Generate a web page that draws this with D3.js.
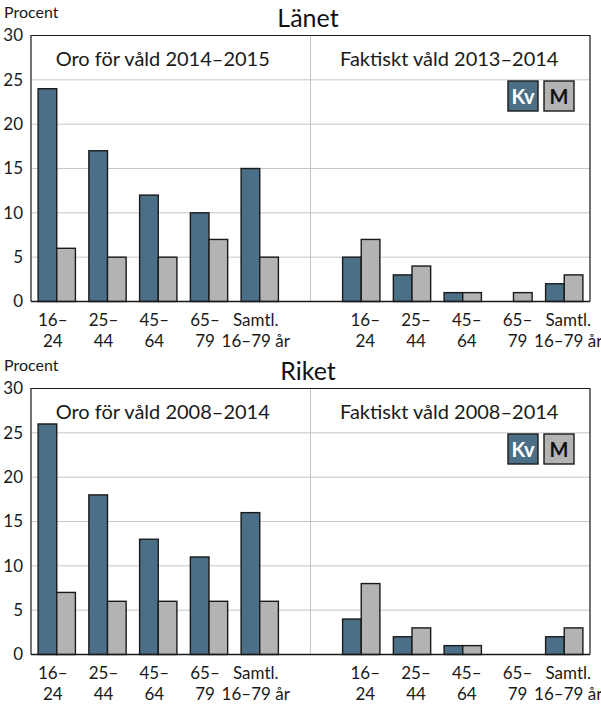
<!DOCTYPE html>
<html>
<head>
<meta charset="utf-8">
<script src="https://cdn.jsdelivr.net/npm/d3@7"></script>
<style>
    body { margin: 0; background: #fff; }
    svg { font-family: Lato, "Noto Sans", sans-serif; }
</style>
</head>
<body>
<div class="content"></div>
<script>
// kategorier och värden
const ageLabels = [['16–', '24'], ['25–', '44'], ['45–', '64'], ['65–', '79'], ['Samtl.', '16–79 år']];
const yTicks = [0, 5, 10, 15, 20, 25, 30];
const seriesNames = ['Kv', 'M'];

const lanTitles = ['Länet', 'Oro för våld 2014–2015', 'Faktiskt våld 2013–2014'];
const lanOroKv = [24, 17, 12, 10, 15];
const lanOroM = [6, 5, 5, 7, 5];
const lanFaktKv = [5, 3, 1, 0, 2];
const lanFaktM = [7, 4, 1, 1, 3];

const rikTitles = ['Riket', 'Oro för våld 2008–2014', 'Faktiskt våld 2008–2014'];
const rikOroKv = [26, 18, 13, 11, 16];
const rikOroM = [7, 6, 6, 6, 6];
const rikFaktKv = [4, 2, 1, 0, 2];
const rikFaktM = [8, 3, 1, 0, 3];

(function () {
    let colors = {Kv: '#4a6f87', M: '#b3b3b3'};
    let left = 31, right = 590, top = 35.5, bottom = 301.5;

    let svg = d3.select('.content').append('svg')
        .attr('width', 601)
        .attr('height', 706);

    let keys = ageLabels.map((d, i) => 'L' + i).concat(['gap'], ageLabels.map((d, i) => 'R' + i));

    let x = d3.scaleBand()
        .domain(keys)
        .range([left, right])
        .paddingInner(0.265)
        .paddingOuter(0.14);

    let xs = d3.scaleBand()
        .domain(seriesNames)
        .range([0, x.bandwidth()]);

    let y = d3.scaleLinear()
        .domain([0, 30])
        .range([bottom, top]);

    function drawPanel(offsetY, titles, oroKv, oroM, faktKv, faktM) {
        let g = svg.append('g').attr('transform', 'translate(0,' + offsetY + ')');

        let rows = [];
        ageLabels.forEach((d, i) => {
            rows.push({key: 'L' + i, s: 'Kv', v: oroKv[i]});
            rows.push({key: 'L' + i, s: 'M', v: oroM[i]});
            rows.push({key: 'R' + i, s: 'Kv', v: faktKv[i]});
            rows.push({key: 'R' + i, s: 'M', v: faktM[i]});
        });

        // rutnät
        g.append('g')
            .selectAll('line')
            .data(yTicks.filter(t => t > 0 && t < 30))
            .join('line')
            .attr('x1', left).attr('x2', right)
            .attr('y1', d => y(d)).attr('y2', d => y(d))
            .attr('stroke', '#c6c6c6')
            .attr('stroke-width', 1);

        // delningslinje
        let mid = x('gap') + x.bandwidth() / 2;
        g.append('line')
            .attr('x1', mid).attr('x2', mid)
            .attr('y1', top).attr('y2', bottom)
            .attr('stroke', '#c6c6c6');

        // ram
        g.append('path')
            .attr('d', 'M' + left + ',' + bottom + 'V' + top + 'H' + right + 'V' + bottom)
            .attr('fill', 'none')
            .attr('stroke', '#1a1a1a')
            .attr('stroke-width', 1.2);

        // staplar
        g.append('g')
            .selectAll('rect')
            .data(rows)
            .join('rect')
            .attr('x', d => x(d.key) + xs(d.s))
            .attr('y', d => y(d.v))
            .attr('width', xs.bandwidth())
            .attr('height', d => y(0) - y(d.v))
            .attr('fill', d => colors[d.s])
            .attr('stroke', '#1a1a1a')
            .attr('stroke-width', 1.4);

        // x-axel
        g.append('line')
            .attr('x1', left).attr('x2', right)
            .attr('y1', bottom).attr('y2', bottom)
            .attr('stroke', '#1a1a1a')
            .attr('stroke-width', 1.4);

        // y-axel
        let yAxis = d3.axisLeft(y)
            .tickValues(yTicks)
            .tickSize(0)
            .tickPadding(8);
        let gY = g.append('g')
            .attr('transform', 'translate(' + left + ',0)')
            .call(yAxis);
        gY.select('.domain').remove();
        gY.selectAll('text')
            .attr('font-size', 17)
            .attr('fill', '#1a1a1a')
            .attr('font-family', 'Lato, sans-serif');

        // x-etiketter
        let labs = g.append('g')
            .selectAll('text')
            .data(keys.filter(k => k !== 'gap'))
            .join('text')
            .attr('text-anchor', 'middle')
            .attr('font-size', 17)
            .attr('fill', '#1a1a1a')
            .attr('transform', d => 'translate(' + (x(d) + x.bandwidth() / 2 + (d[0] === 'L' ? -4 : 4)) + ',0)');
        labs.append('tspan')
            .attr('x', 0).attr('y', 326)
            .text(d => ageLabels[+d.slice(1)][0]);
        labs.append('tspan')
            .attr('x', 0).attr('y', 347)
            .text(d => ageLabels[+d.slice(1)][1]);

        // rubriker
        g.append('text')
            .attr('x', 4).attr('y', 18)
            .attr('font-size', 16)
            .attr('fill', '#1a1a1a')
            .text('Procent');
        g.append('text')
            .attr('x', 308).attr('y', 27)
            .attr('text-anchor', 'middle')
            .attr('font-size', 25)
            .attr('fill', '#111')
            .text(titles[0]);
        g.append('text')
            .attr('x', (left + mid) / 2 - 8).attr('y', 65.5)
            .attr('text-anchor', 'middle')
            .attr('font-size', 20)
            .attr('fill', '#1a1a1a')
            .text(titles[1]);
        g.append('text')
            .attr('x', (mid + right) / 2 - 1).attr('y', 65.5)
            .attr('text-anchor', 'middle')
            .attr('font-size', 20)
            .attr('fill', '#1a1a1a')
            .text(titles[2]);

        // förklaring
        let leg = g.append('g')
            .selectAll('g')
            .data(seriesNames)
            .join('g')
            .attr('transform', (d, i) => 'translate(' + (508 + i * 36) + ',81)');
        leg.append('rect')
            .attr('width', 30).attr('height', 30)
            .attr('fill', d => colors[d])
            .attr('stroke', '#1a1a1a')
            .attr('stroke-width', 1.4);
        leg.append('text')
            .attr('x', 15).attr('y', 22.5)
            .attr('text-anchor', 'middle')
            .attr('font-size', 20)
            .attr('font-weight', 'bold')
            .attr('fill', d => d === 'Kv' ? '#fff' : '#111')
            .text(d => d);
    }

    drawPanel(0, lanTitles, lanOroKv, lanOroM, lanFaktKv, lanFaktM);
    drawPanel(353, rikTitles, rikOroKv, rikOroM, rikFaktKv, rikFaktM);
})();
</script>
</body>
</html>
